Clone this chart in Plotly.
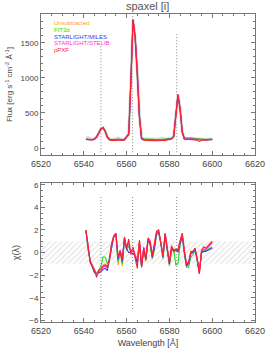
import plotly.graph_objects as go

wavelength = list(range(6541, 6601))

flux_unsub = [125,120,118,120,130,160,215,275,290,240,
              160,125,118,115,120,125,118,120,125,160,
              200,950,1830,1580,1100,450,140,125,122,125,
              120,118,120,118,115,118,120,122,125,130,
              135,165,430,760,560,230,135,128,130,130,
              128,125,122,118,120,122,120,122,124,125]
flux_fit3d = [128,122,120,122,132,165,220,280,295,245,
              162,128,120,118,122,126,120,122,127,165,
              205,955,1825,1575,1095,455,145,130,126,128,
              124,122,123,121,119,121,123,125,128,133,
              138,170,435,755,555,235,145,142,143,145,
              144,140,138,132,125,124,122,124,126,128]
flux_miles = [124,119,117,119,129,159,214,274,289,239,
              158,123,116,114,118,123,116,118,123,158,
              198,948,1828,1578,1098,448,138,122,120,122,
              118,116,118,116,113,116,118,120,123,128,
              133,163,428,758,558,228,133,126,128,128,
              126,123,120,116,118,120,118,120,122,123]
flux_stelib = [123,118,116,118,128,158,213,273,288,238,
               157,122,115,113,117,122,115,117,122,157,
               197,947,1827,1577,1097,447,137,121,118,121,
               117,115,117,115,112,115,117,119,122,127,
               132,162,427,757,557,227,132,125,127,127,
               125,122,119,114,117,119,117,119,121,122]
flux_ppxf = [122,116,113,115,126,156,212,272,287,236,
             152,115,108,106,110,114,108,110,116,152,
             195,945,1835,1585,1095,445,130,112,108,110,
             106,104,106,104,102,105,108,110,113,120,
             128,160,425,765,565,225,125,120,122,122,
             120,116,112,95,112,116,114,117,119,121]
flux_gray = [140,150,135,125,130,158,212,272,288,238,
             158,126,120,125,138,142,128,122,124,158,
             198,948,1828,1578,1098,448,138,128,126,132,
             126,122,126,124,130,140,138,126,128,132,
             136,166,428,758,558,228,136,132,134,132,
             130,128,126,122,124,128,124,126,128,128]

chi_unsub = [2.0,0.3,-0.7,-1.1,-1.5,-1.9,-1.5,-1.4,-1.1,-1.0,
             -1.2,-0.6,0.8,1.5,1.6,-1.1,0.0,-1.2,1.2,0.3,
             0.6,0.0,0.2,-0.4,-1.0,0.9,-1.3,0.3,-0.8,1.1,
             0.6,-0.6,0.3,1.6,1.8,0.8,-0.6,1.5,0.2,-1.2,
             0.4,0.0,0.2,0.0,0.9,1.6,0.0,-1.2,-1.0,0.0,
             0.0,0.3,-0.7,-1.9,0.1,0.2,0.2,0.4,0.6,0.9]
chi_fit3d = [1.9,0.2,-0.8,-1.2,-1.6,-1.8,-1.6,-1.2,-0.4,-0.4,
             -1.0,-0.5,0.8,1.4,1.5,-0.8,0.1,-1.0,1.2,0.2,
             0.6,0.1,0.3,-0.3,-0.9,0.9,-1.2,0.2,-0.7,1.1,
             0.7,-0.5,0.3,1.6,1.7,0.7,-0.5,1.4,0.1,-1.1,
             0.2,0.3,-1.1,-1.0,0.7,1.4,-0.2,-1.3,-1.3,-0.4,
             -0.2,0.2,-0.8,-1.7,0.0,0.1,0.2,0.3,0.4,0.5]
chi_miles = [1.9,0.3,-0.9,-1.3,-1.8,-1.9,-1.8,-1.7,-1.5,-1.4,
             -1.6,-0.6,0.7,1.4,1.6,-0.6,0.2,-0.8,1.2,0.3,
             0.0,0.0,-0.1,-0.3,-0.9,0.8,-1.3,0.4,-0.6,1.1,
             0.8,-0.4,0.4,1.7,1.8,0.9,-0.4,1.6,0.3,-1.0,
             0.3,0.2,0.2,0.1,0.8,1.5,0.0,-1.2,-1.0,-0.1,
             0.0,0.3,-0.6,-1.8,0.0,0.1,0.1,0.2,0.3,0.4]
chi_stelib = [2.0,0.4,-0.8,-1.2,-1.6,-1.9,-1.7,-1.5,-1.3,-1.2,
              -1.4,-0.6,0.8,1.5,1.7,-0.4,0.2,-0.5,1.3,0.4,
              0.9,-0.2,0.3,-0.2,-0.6,1.0,-1.1,0.5,-0.5,1.2,
              1.0,-0.2,0.8,1.8,1.9,1.0,-0.2,1.7,0.4,-0.8,
              0.5,0.2,0.3,0.3,1.0,1.7,0.2,-1.0,-0.8,0.0,
              0.1,0.3,-0.5,-1.7,0.1,0.3,0.3,0.5,0.7,0.9]
chi_ppxf = [2.0,0.4,-0.8,-1.2,-1.6,-2.2,-1.6,-1.5,-1.2,-1.1,
            -1.3,-0.7,0.7,1.4,1.7,-0.3,0.1,-0.6,1.4,0.4,
            1.2,-0.1,0.5,-0.5,-1.4,1.1,-1.2,0.4,-0.6,1.3,
            1.0,-0.3,0.9,1.9,2.0,1.0,-0.3,1.7,0.4,-0.9,
            0.6,0.1,0.3,0.2,1.0,1.7,0.1,-1.1,-0.9,0.1,
            0.1,0.4,-0.6,-1.9,0.2,0.5,0.4,0.6,0.8,1.0]

series_names = ["Unsubtracted", "FIT3d", "STARLIGHT/MILES", "STARLIGHT/STELIB", "pPXF"]
series_colors = ["#FFA030", "#22DD22", "#3333FF", "#FF33CC", "#FF2222"]
flux_series = [flux_unsub, flux_fit3d, flux_miles, flux_stelib, flux_ppxf]
chi_series = [chi_unsub, chi_fit3d, chi_miles, chi_stelib, chi_ppxf]

line_centers = [6548.0, 6562.8, 6583.4]
line_tops_flux = [1450, 1900, 1620]
chi_band = [-1, 1]
x_range = [6520, 6620]

fig = go.Figure()

# gray reference spectrum
fig.add_trace(go.Scatter(x=wavelength, y=flux_gray, mode="lines",
                         line=dict(color="#d8d8d8", width=3),
                         xaxis="x", yaxis="y", showlegend=False, hoverinfo="skip"))

# hatched band in chi panel
fig.add_trace(go.Scatter(x=[x_range[0], x_range[1], x_range[1], x_range[0], x_range[0]],
                         y=[chi_band[0], chi_band[0], chi_band[1], chi_band[1], chi_band[0]],
                         mode="lines", line=dict(width=0), fill="toself",
                         fillcolor="rgba(0,0,0,0)",
                         fillpattern=dict(shape="/", fgcolor="#c8c8c8", bgcolor="white",
                                          size=4, solidity=0.3),
                         xaxis="x2", yaxis="y2", showlegend=False, hoverinfo="skip"))

for name, col, fl, ch in zip(series_names, series_colors, flux_series, chi_series):
    fig.add_trace(go.Scatter(x=wavelength, y=fl, mode="lines", name=name,
                             line=dict(color=col, width=1.1), xaxis="x", yaxis="y",
                             showlegend=False))
    fig.add_trace(go.Scatter(x=wavelength, y=ch, mode="lines", name=name,
                             line=dict(color=col, width=1.1), xaxis="x2", yaxis="y2",
                             showlegend=False))

shapes = []
for c, top in zip(line_centers, line_tops_flux):
    shapes.append(dict(type="line", xref="x", yref="y", x0=c, x1=c, y0=-60, y1=top,
                       line=dict(color="#888888", width=1, dash="1px,2px"), layer="below"))
    shapes.append(dict(type="line", xref="x2", yref="y2", x0=c, x1=c, y0=-5, y1=5,
                       line=dict(color="#888888", width=1, dash="1px,2px"), layer="above"))

annotations = []
for i, (name, col) in enumerate(zip(series_names, series_colors)):
    annotations.append(dict(text=name, x=0.05, y=0.934 - i * 0.0475, xref="paper", yref="y domain",
                            xanchor="left", yanchor="middle", showarrow=False,
                            font=dict(size=6, color=col, family="Liberation Sans")))

axis_common = dict(showline=True, linecolor="#777777", linewidth=1, mirror="allticks",
                   ticks="inside", ticklen=4, tickcolor="#777777", showgrid=False,
                   zeroline=False, automargin=False, tickfont=dict(size=8, color="#444444"))

fig.update_layout(
    width=266, height=349,
    margin=dict(l=41, r=11, t=14, b=27),
    plot_bgcolor="white", paper_bgcolor="white",
    font=dict(family="Liberation Sans", color="#444444"),
    title=dict(text="spaxel [i]", x=0.555, xanchor="center", y=0.983, yanchor="middle",
               font=dict(size=11, color="#555555")),
    xaxis=dict(domain=[0, 1], range=x_range, anchor="y", dtick=20,
               minor=dict(ticks="inside", ticklen=2, dtick=5, tickcolor="#777777"),
               **{**axis_common, "tickfont": dict(size=9, color="#444444")}),
    yaxis=dict(domain=[0.542, 1.0], range=[-100, 1910], anchor="x", dtick=500,
               minor=dict(ticks="inside", ticklen=2, dtick=100, tickcolor="#777777"),
               title=dict(text="Flux [erg s<sup>-1</sup> cm<sup>-2</sup> Å<sup>-1</sup>]",
                          font=dict(size=8, color="#444444"), standoff=6),
               **axis_common),
    xaxis2=dict(domain=[0, 1], range=x_range, anchor="y2", dtick=20,
                minor=dict(ticks="inside", ticklen=2, dtick=5, tickcolor="#777777"),
                title=dict(text="Wavelength [Å]", font=dict(size=9, color="#444444"), standoff=4),
                **{**axis_common, "tickfont": dict(size=9, color="#444444")}),
    yaxis2=dict(domain=[0, 0.451], range=[-6.15, 6.15], anchor="x2", dtick=2,
                minor=dict(ticks="inside", ticklen=2, dtick=0.5, tickcolor="#777777"),
                title=dict(text="χ(λ)", font=dict(size=9, color="#444444"), standoff=8),
                **axis_common),
    shapes=shapes,
    annotations=annotations,
    showlegend=False,
)

fig.write_html("out.html", config={"displayModeBar": False},
               post_script="document.body.style.margin='0';document.body.style.overflow='hidden';")
